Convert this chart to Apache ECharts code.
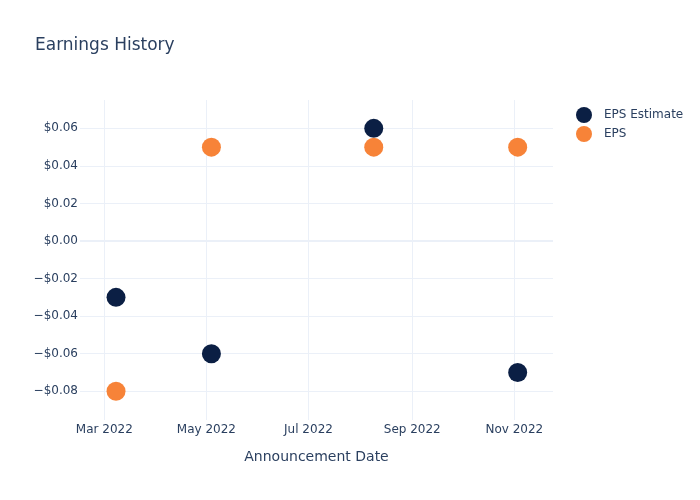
<!DOCTYPE html>
<html>
<head>
<meta charset="utf-8">
<script src="https://cdn.jsdelivr.net/npm/echarts@6/dist/echarts.min.js"></script>
<style>html,body{margin:0;padding:0;background:#fff}#c{width:700px;height:500px}</style>
</head>
<body>
<div id="c"></div>
<script>
const dates = ['2022-03-08', '2022-05-04', '2022-08-09', '2022-11-03'];
const epsEstimate = [-0.03, -0.06, 0.06, -0.07];
const eps = [-0.08, 0.05, 0.05, 0.05];
const xTicks = ['2022-03-01', '2022-05-01', '2022-07-01', '2022-09-01', '2022-11-01'];
const yTicks = [-0.08, -0.06, -0.04, -0.02, 0, 0.02, 0.04, 0.06];
const monthNames = ['Jan','Feb','Mar','Apr','May','Jun','Jul','Aug','Sep','Oct','Nov','Dec'];

function ts(s) { const p = s.split('-').map(Number); return Date.UTC(p[0], p[1] - 1, p[2]); }
const DAY = 86400000;
const FONT = 'DejaVu Sans';
const TXT = '#2a3f5f';
const GRID = '#EBF0F8';

const chart = echarts.init(document.getElementById('c'), null, {renderer: 'canvas'});
chart.setOption({
  animation: false,
  backgroundColor: '#fff',
  textStyle: {fontFamily: FONT, color: TXT},
  title: {
    text: 'Earnings History', left: 30, top: 32,
    textStyle: {fontFamily: FONT, fontSize: 17, fontWeight: 'normal', color: TXT}
  },
  legend: {
    orient: 'vertical', left: 571, top: 102, itemWidth: 16, itemHeight: 16, itemGap: 3,
    icon: 'circle',
    textStyle: {fontFamily: FONT, fontSize: 12, color: TXT, padding: [0, 0, 0, 7]},
    data: ['EPS Estimate', 'EPS']
  },
  grid: {left: 80, right: 147, top: 100, bottom: 80},
  xAxis: {
    type: 'value',
    min: ts('2022-03-01') - 14.52 * DAY,
    max: ts('2022-11-01') + 23.1 * DAY,
    name: 'Announcement Date', nameLocation: 'middle', nameGap: 30,
    nameTextStyle: {fontFamily: FONT, fontSize: 14, color: TXT},
    axisLine: {show: false},
    axisTick: {show: false, customValues: xTicks.map(ts)},
    axisLabel: {
      customValues: xTicks.map(ts), margin: 4, fontFamily: FONT, fontSize: 12, color: TXT,
      formatter: v => { const d = new Date(v); return monthNames[d.getUTCMonth()] + ' ' + d.getUTCFullYear(); }
    },
    splitLine: {show: true, lineStyle: {color: GRID, width: 1}}
  },
  yAxis: {
    type: 'value',
    min: -0.0953, max: 0.0751,
    axisLine: {show: false},
    axisTick: {show: false, customValues: yTicks},
    axisLabel: {
      customValues: yTicks, margin: 2, fontFamily: FONT, fontSize: 12, color: TXT,
      formatter: v => (Math.abs(v) < 1e-9 ? '$0.00' : (v < 0 ? '\u2212' : '') + '$' + Math.abs(v).toFixed(2))
    },
    splitLine: {show: true, lineStyle: {color: GRID, width: 1}}
  },
  series: [
    {
      name: 'EPS Estimate', type: 'scatter', symbolSize: 19,
      itemStyle: {color: '#0b1f44', opacity: 1},
      data: dates.map((d, i) => [ts(d), epsEstimate[i]]),
      markLine: {
        silent: true, symbol: 'none', label: {show: false},
        lineStyle: {color: GRID, width: 2, type: 'solid'},
        data: [{yAxis: 0}]
      },
      z: 2
    },
    {
      name: 'EPS', type: 'scatter', symbolSize: 19,
      itemStyle: {color: '#f78338', opacity: 1},
      data: dates.map((d, i) => [ts(d), eps[i]]),
      z: 3
    }
  ]
});
</script>
</body>
</html>
